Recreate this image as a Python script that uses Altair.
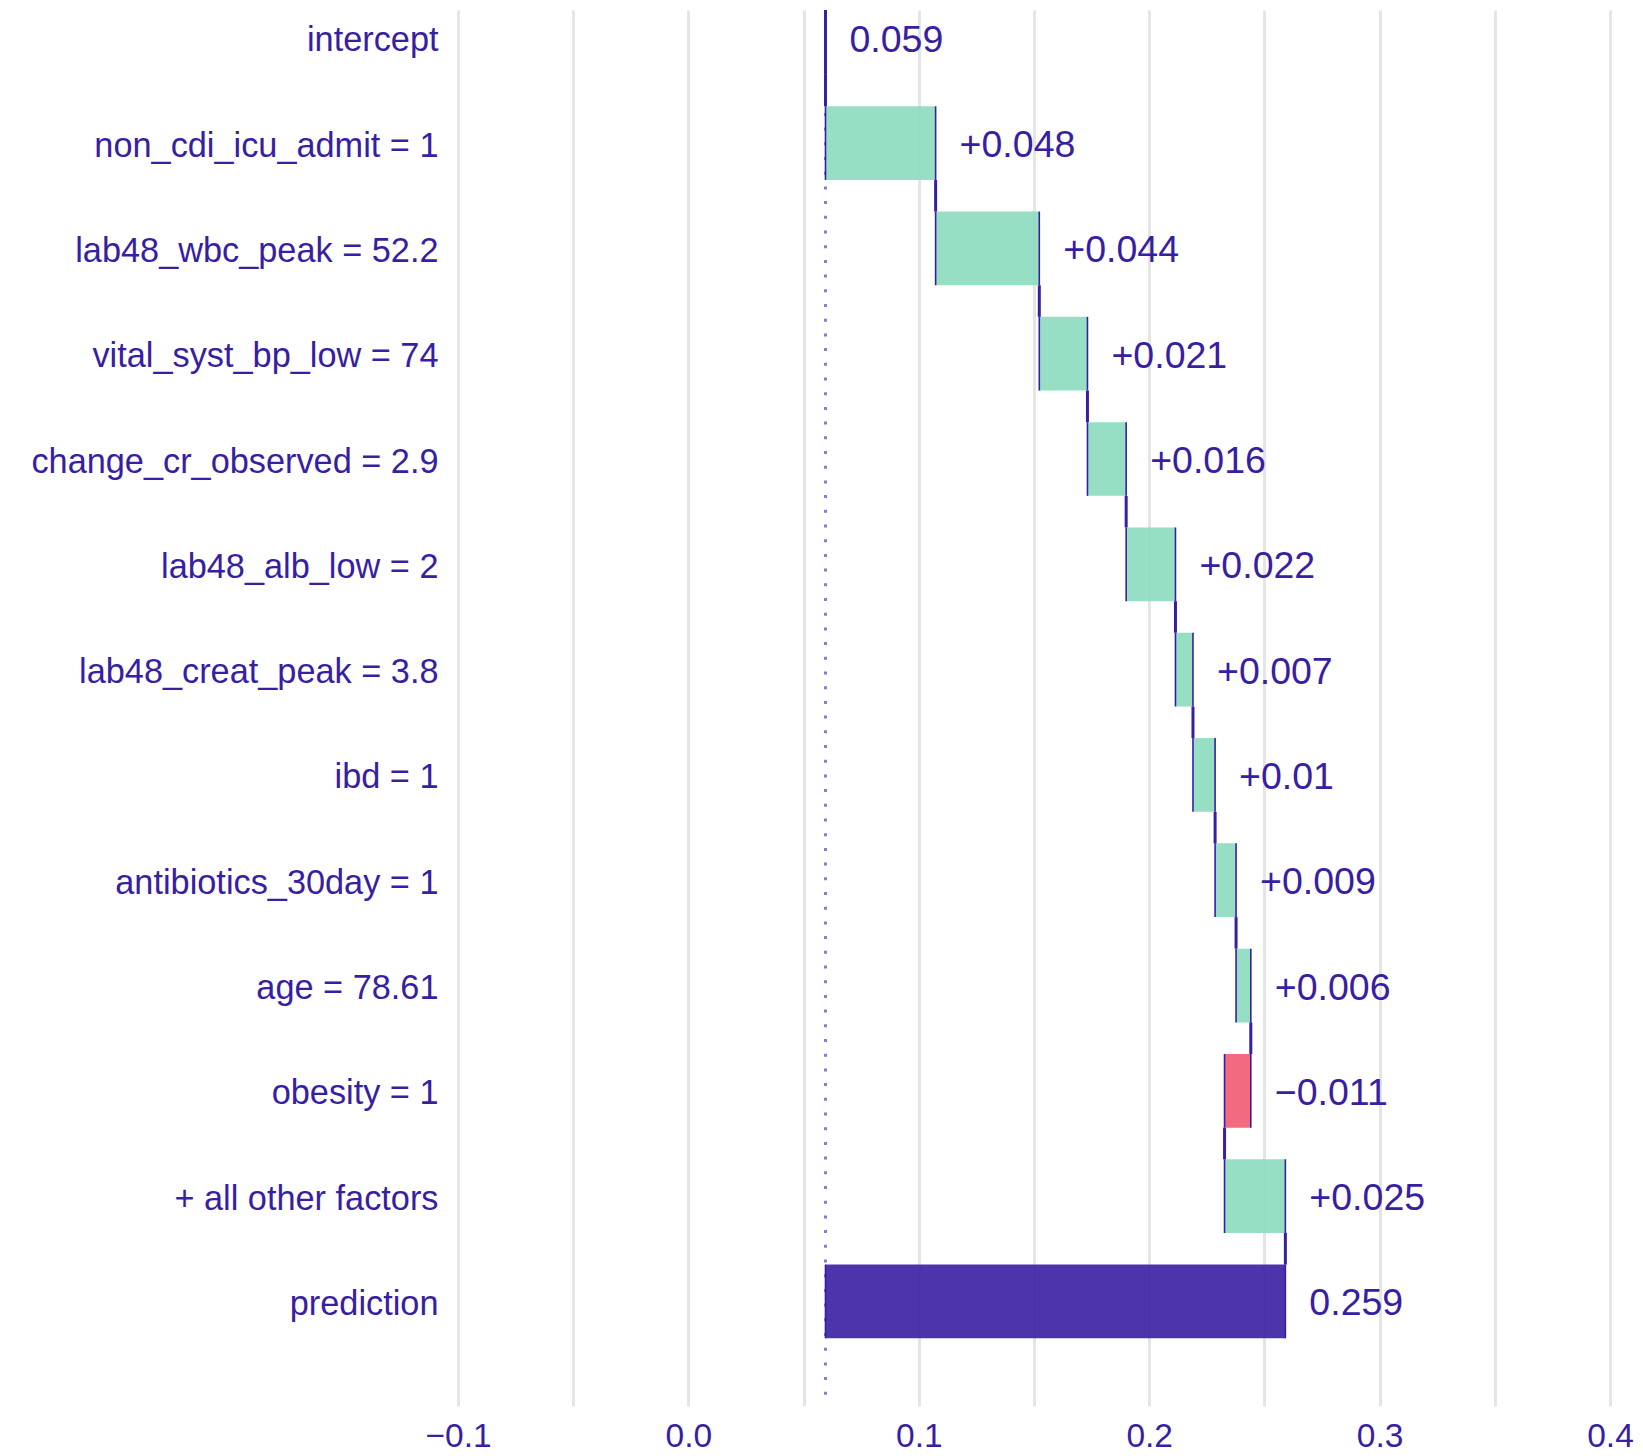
import json
import altair as alt
import pandas as pd

# ---- data ----
features = [
    "intercept",
    "non_cdi_icu_admit = 1",
    "lab48_wbc_peak = 52.2",
    "vital_syst_bp_low = 74",
    "change_cr_observed = 2.9",
    "lab48_alb_low = 2",
    "lab48_creat_peak = 3.8",
    "ibd = 1",
    "antibiotics_30day = 1",
    "age = 78.61",
    "obesity = 1",
    "+ all other factors",
    "prediction",
]
intercept = 0.0595
contributions = [0.0478, 0.0450, 0.0209, 0.0168, 0.0214, 0.0076, 0.0096,
                 0.0091, 0.0064, -0.0114, 0.0264]
prediction = 0.2591
value_labels = ["0.059", "+0.048", "+0.044", "+0.021", "+0.016", "+0.022",
                "+0.007", "+0.01", "+0.009", "+0.006", "\u22120.011",
                "+0.025", "0.259"]

# ---- table ----
rows = []
cum = intercept
rows.append(dict(idx=0, start=intercept, end=intercept, kind="intercept"))
for i, c in enumerate(contributions, start=1):
    rows.append(dict(idx=i, start=cum, end=cum + c,
                     kind="positive" if c >= 0 else "negative"))
    cum += c
rows.append(dict(idx=12, start=intercept, end=prediction, kind="prediction"))
df = pd.DataFrame(rows)
df["feature"] = features
df["text"] = value_labels

PURPLE = "#371ea3"
FONT = "Liberation Sans"

half = 0.35
yscale = alt.Scale(domain=[-0.264, 12.993], reverse=True, nice=False, zero=False)
yaxis = alt.Axis(
    values=list(range(13)),
    labelExpr=json.dumps(features) + "[datum.value]",
    title=None, grid=False, ticks=False, domain=False,
    labelFontSize=34.3, labelColor=PURPLE, labelFont=FONT,
    labelPadding=20, labelBaseline="middle", labelLimit=1000, labelOffset=3,
)
xticks = [round(-0.1 + 0.05 * k, 2) for k in range(11)]
xscale = alt.Scale(domain=[-0.1, 0.4], nice=False, zero=False)
xaxis = alt.Axis(
    values=xticks,
    labelExpr="abs(round(datum.value*20)) % 2 == 0 ? format(datum.value, '.1f') : ''",
    title=None, grid=True, gridColor="#e5e5e5", gridWidth=3,
    ticks=False, domain=False, labelFontSize=33.5, labelColor=PURPLE,
    labelFont=FONT, labelPadding=14, labelFlush=False, labelOverlap=False,
)

base = alt.Chart(df).transform_calculate(
    y_top=f"datum.idx - {half}",
    y_bot=f"datum.idx + {half}",
    y_next=f"datum.idx + 1 - {half}",
    hi="max(datum.start, datum.end)",
)

dotted = base.transform_filter("datum.idx == 0").mark_rule(
    color="#8a7bcf", strokeWidth=3, strokeDash=[3, 11.7]
).encode(x=alt.X("end:Q", scale=xscale, axis=xaxis))

bars = base.transform_filter("datum.kind != 'intercept'").mark_rect(opacity=0.9).encode(
    x=alt.X("start:Q", scale=xscale, axis=xaxis),
    x2="end:Q",
    y=alt.Y("y_top:Q", scale=yscale, axis=yaxis),
    y2="y_bot:Q",
    color=alt.Color("kind:N", legend=None, scale=alt.Scale(
        domain=["positive", "negative", "prediction"],
        range=["#8bdcbe", "#f05a71", PURPLE])),
)

edge_l = base.mark_rule(color=PURPLE, strokeWidth=1.6, clip=True).encode(
    x=alt.X("start:Q", scale=xscale, axis=xaxis),
    y=alt.Y("y_top:Q", scale=yscale, axis=yaxis),
    y2="y_bot:Q",
)
edge_r = base.mark_rule(color=PURPLE, strokeWidth=1.6, clip=True).encode(
    x=alt.X("end:Q", scale=xscale, axis=xaxis),
    y=alt.Y("y_top:Q", scale=yscale, axis=yaxis),
    y2="y_bot:Q",
)
connectors = base.transform_filter("datum.idx < 12").mark_rule(
    color=PURPLE, strokeWidth=3, clip=True
).encode(
    x=alt.X("end:Q", scale=xscale, axis=xaxis),
    y=alt.Y("y_bot:Q", scale=yscale, axis=yaxis),
    y2="y_next:Q",
)
intercept_line = base.transform_filter("datum.idx == 0").mark_rule(
    color=PURPLE, strokeWidth=3, clip=True
).encode(
    x=alt.X("end:Q", scale=xscale, axis=xaxis),
    y=alt.Y("y_top:Q", scale=yscale, axis=yaxis),
    y2="y_bot:Q",
)

labels = base.mark_text(
    align="left", baseline="middle", dx=24, dy=3, fontSize=37.5, font=FONT, color=PURPLE
).encode(
    x=alt.X("hi:Q", scale=xscale, axis=xaxis),
    y=alt.Y("idx:Q", scale=yscale, axis=yaxis),
    text="text:N",
)

chart = alt.layer(
    dotted, bars, edge_l, edge_r, connectors, intercept_line, labels
).properties(
    width=1152, height=1396,
    padding={"left": 22, "top": 0, "right": 0, "bottom": 0},
).configure_view(stroke=None)

chart.save("out.html", embed_options={"renderer": "svg", "actions": False})
